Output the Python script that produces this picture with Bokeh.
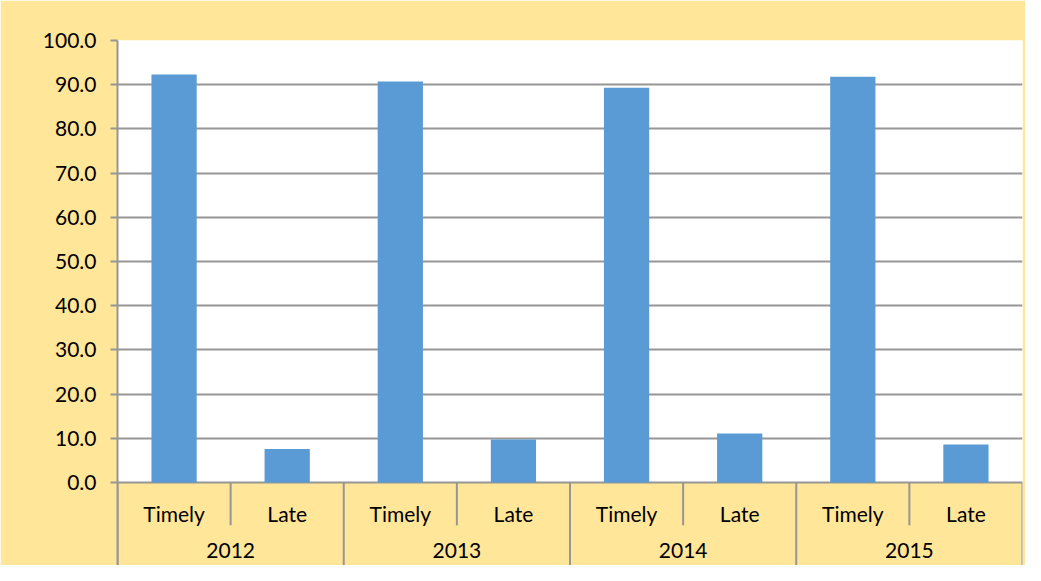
from bokeh.plotting import figure
from bokeh.models import Range1d, FixedTicker, BoxAnnotation, ColumnDataSource, NumeralTickFormatter
from bokeh.core.properties import value
from bokeh.embed import file_html
from bokeh.resources import INLINE

years = ["2012", "2013", "2014", "2015"]
kinds = ["Timely", "Late"]
timely = [92.3, 90.7, 89.3, 91.8]
late = [7.6, 9.7, 11.1, 8.6]
y_ticks = [0, 10, 20, 30, 40, 50, 60, 70, 80, 90, 100]

BLUE = "#5B9BD5"
YELLOW = "#FFE699"
GRAY = "#969696"
FONT = "Lato"
Y_MIN = -18.78

xs, vals, labels = [], [], []
for gi, y in enumerate(years):
    for ci, k in enumerate(kinds):
        xs.append(2 * gi + ci + 0.5)
        vals.append(timely[gi] if k == "Timely" else late[gi])
        labels.append(k)
n = len(xs)

p = figure(width=1025, height=565, output_backend="svg", toolbar_location=None,
           x_range=Range1d(0, n), y_range=Range1d(Y_MIN, 100),
           min_border_left=117, min_border_right=3, min_border_top=40, min_border_bottom=0)
p.background_fill_color = "white"
p.border_fill_color = YELLOW
p.outline_line_color = None
p.xaxis.visible = False
p.xgrid.visible = False

p.ygrid.ticker = FixedTicker(ticks=y_ticks)
p.ygrid.grid_line_color = GRAY
p.ygrid.grid_line_width = 2

ya = p.yaxis[0]
ya.ticker = FixedTicker(ticks=y_ticks)
ya.formatter = NumeralTickFormatter(format="0.0")
ya.axis_line_color = GRAY
ya.axis_line_width = 2
ya.major_tick_line_color = GRAY
ya.major_tick_line_width = 2
ya.major_tick_out = 7
ya.major_tick_in = 0
ya.minor_tick_line_color = None
ya.major_label_text_font = FONT
ya.major_label_text_font_size = "21px"
ya.major_label_text_color = "black"
ya.major_label_standoff = 14

# yellow category-axis area below zero
p.add_layout(BoxAnnotation(top=0, fill_color=YELLOW, fill_alpha=1, line_color=None, level="image"))

src = ColumnDataSource(dict(x=xs, top=vals, label=labels))
p.vbar(x="x", top="top", bottom=0, width=0.4, source=src, fill_color=BLUE, line_color=None)

inner_x = [2 * gi + 1 for gi in range(len(years))]
p.segment(x0=inner_x, y0=[0] * len(inner_x), x1=inner_x, y1=[-9.7] * len(inner_x),
          line_color=GRAY, line_width=2)
group_x = [2 * gi for gi in range(len(years) + 1)]
p.segment(x0=group_x, y0=[0] * len(group_x), x1=group_x, y1=[Y_MIN] * len(group_x),
          line_color=GRAY, line_width=2)

p.text(x=xs, y=[0] * n, text=labels, text_align="center", text_baseline="middle",
       y_offset=31, text_font=value(FONT), text_font_size="21px", text_color="black")
year_x = [2 * gi + 1 for gi in range(len(years))]
p.text(x=year_x, y=[0] * len(years), text=years, text_align="center", text_baseline="middle",
       y_offset=68, text_font=value(FONT), text_font_size="21px", text_color="black")

open("out.html", "w").write(file_html(p, INLINE))
